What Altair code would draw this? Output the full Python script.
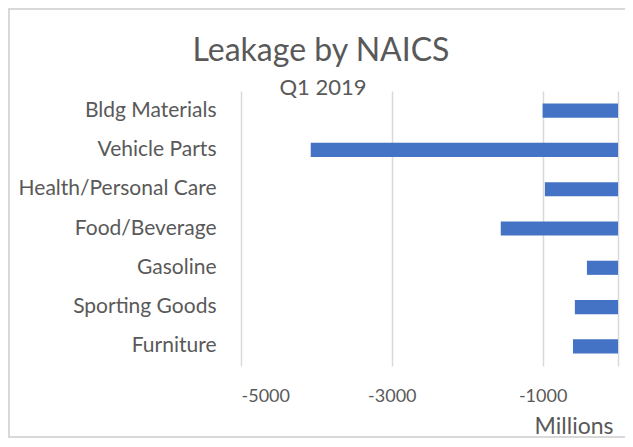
import altair as alt
import pandas as pd

categories = ["Bldg Materials", "Vehicle Parts", "Health/Personal Care",
              "Food/Beverage", "Gasoline", "Sporting Goods", "Furniture"]
values = [-1000, -4075, -970, -1555, -412, -572, -597]
tick_values = [-5000, -3000, -1000, 0]
title_text = "Leakage by NAICS"
subtitle_text = "Q1 2019"

df = pd.DataFrame({"category": categories, "value": values})
one = pd.DataFrame({"k": [0]})

FONT = "Lato"
GRAY = "#595959"
GRID = "#D9D9D9"

bars = alt.Chart(df).mark_bar(color="#4472C4").encode(
    x=alt.X(
        "value:Q",
        scale=alt.Scale(domain=[-5000, 0], nice=False, zero=False),
        axis=alt.Axis(
            values=tick_values,
            labelExpr="datum.value == 0 ? '' : toString(datum.value)",
            grid=True, gridColor=GRID, gridWidth=1.5,
            domain=False, ticks=False,
            labelFont=FONT, labelFontSize=18, labelColor=GRAY, labelPadding=21,
            title="Millions", titleFont=FONT, titleFontSize=23,
            titleFontWeight="normal", titleColor=GRAY,
            titleAnchor="end", titleAlign="right", titleBaseline="alphabetic",
            titleX=372, titleY=67,
        ),
    ),
    y=alt.Y(
        "category:N", sort=categories,
        scale=alt.Scale(paddingInner=0.64, paddingOuter=0.32),
        axis=alt.Axis(
            title=None, domain=False, ticks=False, grid=False,
            labelFont=FONT, labelFontSize=21, labelColor=GRAY, labelPadding=25,
            labelLimit=300,
        ),
    ),
)

border = alt.Chart(one).mark_rect(
    fillOpacity=0, stroke=GRID, strokeWidth=2
).encode(
    x=alt.value(-232), x2=alt.value(600),
    y=alt.value(-82), y2=alt.value(346),
)

title = alt.Chart(one).mark_text(
    text=title_text, font=FONT, fontSize=32, color=GRAY,
    align="center", baseline="alphabetic",
).encode(x=alt.value(80), y=alt.value(-30))

subtitle = alt.Chart(one).mark_text(
    text=subtitle_text, font=FONT, fontSize=22, color=GRAY,
    align="center", baseline="alphabetic",
).encode(x=alt.value(82), y=alt.value(4))

chart = alt.layer(border, bars, title, subtitle).properties(
    width=377,
    height=275,
    padding={"left": 233, "top": 83, "right": 7, "bottom": 73},
    autosize=alt.AutoSizeParams(type="none"),
).configure_view(stroke=None)

chart.save("out.html", embed_options={"renderer": "svg", "actions": False})
